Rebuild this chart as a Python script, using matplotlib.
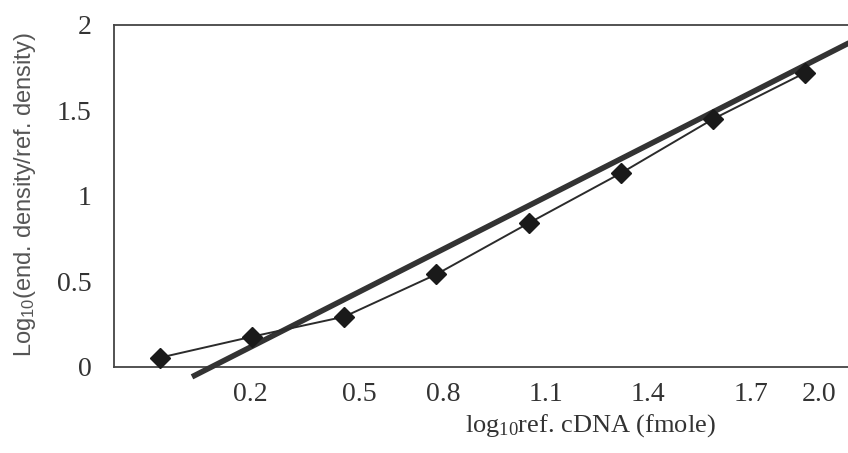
import matplotlib
matplotlib.use("Agg")
import matplotlib.pyplot as plt
import numpy as np

plt.rcParams["mathtext.default"] = "regular"

# ---- data ----
x_values = [-0.1, 0.2, 0.5, 0.8, 1.1, 1.4, 1.7, 2.0]
y_values = [0.053, 0.176, 0.293, 0.541, 0.84, 1.132, 1.449, 1.72]
fit_slope = 0.9136
fit_intercept = -0.063
fit_x_range = [0.004, 2.16]
x_tick_labels = ["0.2", "0.5", "0.8", "1.1", "1.4", "1.7", "2.0"]
y_ticks = [0, 0.5, 1, 1.5, 2]
y_tick_labels = ["0", "0.5", "1", "1.5", "2"]

# layout: where the (slightly misaligned) printed x labels sit
x_tick_pos = [0.193, 0.549, 0.823, 1.155, 1.488, 1.824, 2.045]

W, H = 848, 453
fig = plt.figure(figsize=(W / 100, H / 100), dpi=100)
ax = fig.add_axes([114 / W, 1 - 366.7 / H, (W - 114) / W + 0.01, (366.7 - 25) / H])

ax.set_xlim(-0.25, 2.14 + 0.01 * W / 306.7)
ax.set_ylim(0, 2)

ink = "#2b2b2b"
fx = np.array(fit_x_range)
ax.plot(fx, fit_slope * fx + fit_intercept, color="#333333", lw=4.0,
        solid_capstyle="butt", clip_on=False, zorder=3)
ax.plot(x_values, y_values, color=ink, lw=1.4, marker="D", ms=10,
        mfc="#1a1a1a", mec="#1a1a1a", zorder=4, clip_on=False)

for s in ["left", "top", "bottom"]:
    ax.spines[s].set_color("#444444")
    ax.spines[s].set_linewidth(1.3)
ax.spines["right"].set_visible(False)

serif = ["Liberation Serif", "DejaVu Serif"]
ax.set_xticks(x_tick_pos)
ax.set_xticklabels(x_tick_labels, family=serif, fontsize=20, color="#333333")
ax.set_yticks(y_ticks)
ax.set_yticklabels(y_tick_labels, family=serif, fontsize=20, color="#333333")
ax.tick_params(axis="both", length=0)
ax.tick_params(axis="x", pad=11)
ax.tick_params(axis="y", pad=16)

fig.text(590 / W, 1 - 426 / H, r"log$_{10}$ref. cDNA (fmole)", family=serif,
         fontsize=19, color="#333333", ha="center", va="center")
fig.text(25 / W, 1 - 195 / H, r"Log$_{10}$(end. density/ref. density)",
         family=["Liberation Sans", "DejaVu Sans"], fontsize=17, color="#555555",
         rotation=90, ha="center", va="center")

fig.savefig("out.png", dpi=100)
